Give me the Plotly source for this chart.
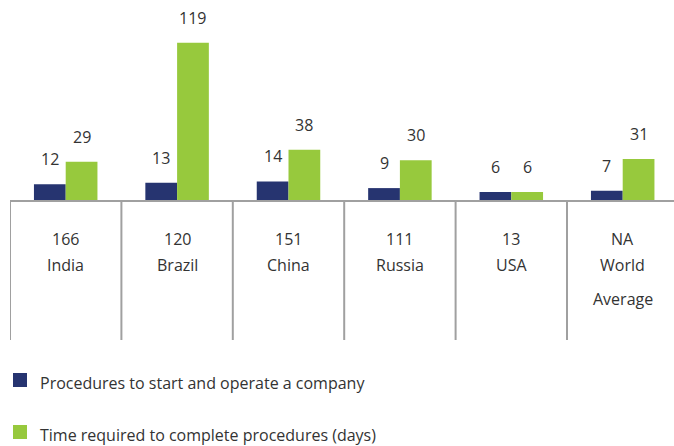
import plotly.graph_objects as go

# Business start-up indicators by country
countries = ["India", "Brazil", "China", "Russia", "USA", "World<br>Average"]
rank_labels = ["166", "120", "151", "111", "13", "NA"]
procedures = [12, 13, 14, 9, 6, 7]
days_required = [29, 119, 38, 30, 6, 31]

series_names = [
    "Procedures to start and operate a company",
    "Time required to complete procedures (days)",
]
NAVY = "#263470"
GREEN = "#97c93d"
series_colors = [NAVY, GREEN]
TEXT = "#333333"
GRID = "#a0a0a0"
FONT = "Open Sans"

BARGAP = 0.43
half = (1 - BARGAP) / 4  # offset from category centre to each bar centre

x_idx = list(range(len(countries)))

fig = go.Figure()
for vals, name, col in zip([procedures, days_required], series_names, series_colors):
    fig.add_trace(go.Bar(x=x_idx, y=vals, name=name,
                         marker=dict(color=col, line=dict(width=0)),
                         showlegend=False))

annotations = []
# value labels above each bar
for i, (p, d) in enumerate(zip(procedures, days_required)):
    annotations.append(dict(x=i - half, y=p, xref="x", yref="y", text=str(p),
                            showarrow=False, yanchor="middle", yshift=25,
                            font=dict(size=16, color=TEXT, family=FONT)))
    annotations.append(dict(x=i + half, y=d, xref="x", yref="y", text=str(d),
                            showarrow=False, yanchor="middle", yshift=25,
                            font=dict(size=16, color=TEXT, family=FONT)))

# pixel helpers relative to the plotting area (left edge 10 px, bottom 200 px)
PLOT_H = 190
PLOT_W = 664
def py(pix_below):
    return -pix_below / PLOT_H
def px(pix_x):
    return (pix_x - 10) / PLOT_W

# table-style category labels under the axis
for i, (rank, name) in enumerate(zip(rank_labels, countries)):
    annotations.append(dict(x=i, y=py(39), xref="x", yref="paper", text=rank,
                            showarrow=False, yanchor="middle",
                            font=dict(size=16, color=TEXT, family=FONT)))
    parts = name.split("<br>")
    for k, part in enumerate(parts):
        annotations.append(dict(x=i, y=py(65 if k == 0 else 99), xref="x", yref="paper",
                                text=part, showarrow=False, yanchor="middle",
                                font=dict(size=16, color=TEXT, family=FONT)))

# column dividers
shapes = []
for i in range(len(countries)):
    shapes.append(dict(type="line", xref="x", yref="paper",
                       x0=i - 0.5, x1=i - 0.5, y0=0, y1=py(140),
                       line=dict(color=GRID, width=2)))

# key below the table
key_rows = [183, 235]  # text centre, px below the axis
for row, name, col in zip(key_rows, series_names, series_colors):
    shapes.append(dict(type="rect", xref="paper", yref="paper",
                       x0=px(13), x1=px(27), y0=py(row - 10), y1=py(row + 4),
                       fillcolor=col, line=dict(width=0)))
    annotations.append(dict(x=px(38), y=py(row), xref="paper", yref="paper",
                            text=name, showarrow=False, xanchor="left",
                            yanchor="middle",
                            font=dict(size=16, color=TEXT, family=FONT)))

fig.update_layout(
    width=674, height=446,
    margin=dict(l=10, r=0, t=10, b=246),
    paper_bgcolor="white", plot_bgcolor="white",
    barmode="group", bargap=BARGAP, bargroupgap=0,
    font=dict(family=FONT, size=16, color=TEXT),
    xaxis=dict(range=[-0.5, -0.5 + 664 / 111.4], showticklabels=False,
               showgrid=False, zeroline=False, showline=True,
               linecolor=GRID, linewidth=2, ticks="", fixedrange=True),
    yaxis=dict(range=[0, PLOT_H / 1.322], visible=False, fixedrange=True),
    showlegend=False,
    annotations=annotations,
    shapes=shapes,
)

fig.write_html("out.html")
